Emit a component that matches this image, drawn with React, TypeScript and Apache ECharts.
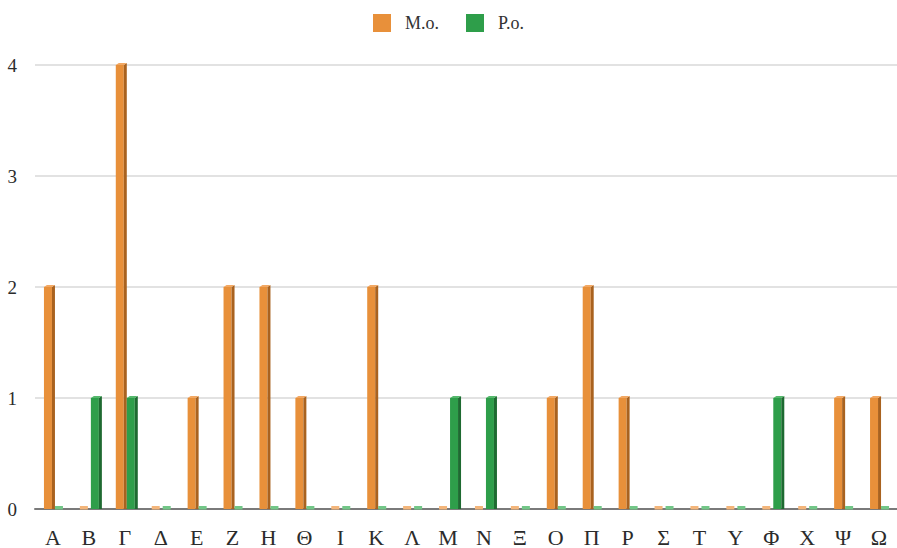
import React, { useEffect, useRef } from "react";
import * as echarts from "echarts";

const categories = ["Α", "Β", "Γ", "Δ", "Ε", "Ζ", "Η", "Θ", "Ι", "Κ", "Λ", "Μ", "Ν", "Ξ", "Ο", "Π", "Ρ", "Σ", "Τ", "Υ", "Φ", "Χ", "Ψ", "Ω"];
const moValues = [2, 0, 4, 0, 1, 2, 2, 1, 0, 2, 0, 0, 0, 0, 1, 2, 1, 0, 0, 0, 0, 0, 1, 1];
const poValues = [0, 1, 1, 0, 0, 0, 0, 0, 0, 0, 0, 1, 1, 0, 0, 0, 0, 0, 0, 0, 1, 0, 0, 0];
const yTicks = [0, 1, 2, 3, 4];

const FONT = "Times New Roman, Liberation Serif, DejaVu Serif, serif";

// Front / side / top / zero-stub shades for each series' faux-3D bar
const palettes = {
  mo: { front: "#E8903A", side: "#A9621F", top: "#F2A863", stub: "#F3B57A" },
  po: { front: "#2E9E4A", side: "#1E6A31", top: "#55B86C", stub: "#72C687" },
};

function makeRenderer(offset: number, pal: typeof palettes.mo) {
  const wF = 8;
  const wS = 3;
  const dy = 2;
  return (params: any, api: any) => {
    const cat = api.value(0);
    const val = api.value(1);
    const top = api.coord([cat, val]);
    const base = api.coord([cat, 0]);
    const x0 = top[0] + offset;
    const yTop = top[1];
    const yBase = base[1];
    if (val <= 0) {
      return {
        type: "rect",
        shape: { x: x0, y: yBase - 3, width: wF, height: 3.5 },
        style: { fill: pal.stub },
      };
    }
    return {
      type: "group",
      children: [
        {
          type: "rect",
          shape: { x: x0, y: yTop, width: wF, height: yBase - yTop },
          style: { fill: pal.front },
        },
        {
          type: "polygon",
          shape: {
            points: [
              [x0 + wF, yTop],
              [x0 + wF + wS, yTop - dy],
              [x0 + wF + wS, yBase],
              [x0 + wF, yBase],
            ],
          },
          style: { fill: pal.side },
        },
        {
          type: "polygon",
          shape: {
            points: [
              [x0, yTop],
              [x0 + wS, yTop - dy],
              [x0 + wF + wS, yTop - dy],
              [x0 + wF, yTop],
            ],
          },
          style: { fill: pal.top },
        },
      ],
    };
  };
}

export default function App() {
  const ref = useRef<HTMLDivElement>(null);

  useEffect(() => {
    if (!ref.current) return;
    const chart = echarts.init(ref.current, null, { renderer: "svg" });
    chart.setOption({
      animation: false,
      backgroundColor: "#ffffff",
      textStyle: { fontFamily: FONT },
      legend: {
        top: 9,
        left: "center",
        icon: "rect",
        itemWidth: 18,
        itemHeight: 18,
        itemGap: 27,
        textStyle: {
          fontFamily: FONT,
          fontSize: 18,
          color: "#333333",
          padding: [0, 0, 0, 9],
        },
        data: ["M.o.", "P.o."],
      },
      grid: { left: 35, right: -1, top: 65, bottom: 39 },
      xAxis: {
        type: "category",
        data: categories,
        boundaryGap: true,
        axisTick: { show: false },
        axisLine: { show: true, lineStyle: { color: "#7a7a7a", width: 2 } },
        axisLabel: {
          fontFamily: FONT,
          fontSize: 22,
          color: "#2b2b2b",
          margin: 17,
          interval: 0,
        },
      },
      yAxis: {
        type: "value",
        min: yTicks[0],
        max: yTicks[yTicks.length - 1],
        interval: 1,
        axisLine: { show: false },
        axisTick: { show: false },
        splitLine: { lineStyle: { color: "#d9d9d9", width: 1.5 } },
        axisLabel: {
          fontFamily: FONT,
          fontSize: 19,
          color: "#2b2b2b",
          margin: 18,
        },
      },
      series: [
        {
          name: "M.o.",
          type: "custom",
          itemStyle: { color: palettes.mo.front },
          encode: { x: 0, y: 1 },
          data: moValues.map((v, i) => [i, v]),
          renderItem: makeRenderer(-9, palettes.mo),
        },
        {
          name: "P.o.",
          type: "custom",
          itemStyle: { color: palettes.po.front },
          encode: { x: 0, y: 1 },
          data: poValues.map((v, i) => [i, v]),
          renderItem: makeRenderer(2, palettes.po),
        },
      ],
    });
    return () => chart.dispose();
  }, []);

  return (
    <div
      ref={ref}
      style={{ position: "fixed", left: 0, top: 0, width: 897, height: 548, background: "#fff" }}
    />
  );
}
